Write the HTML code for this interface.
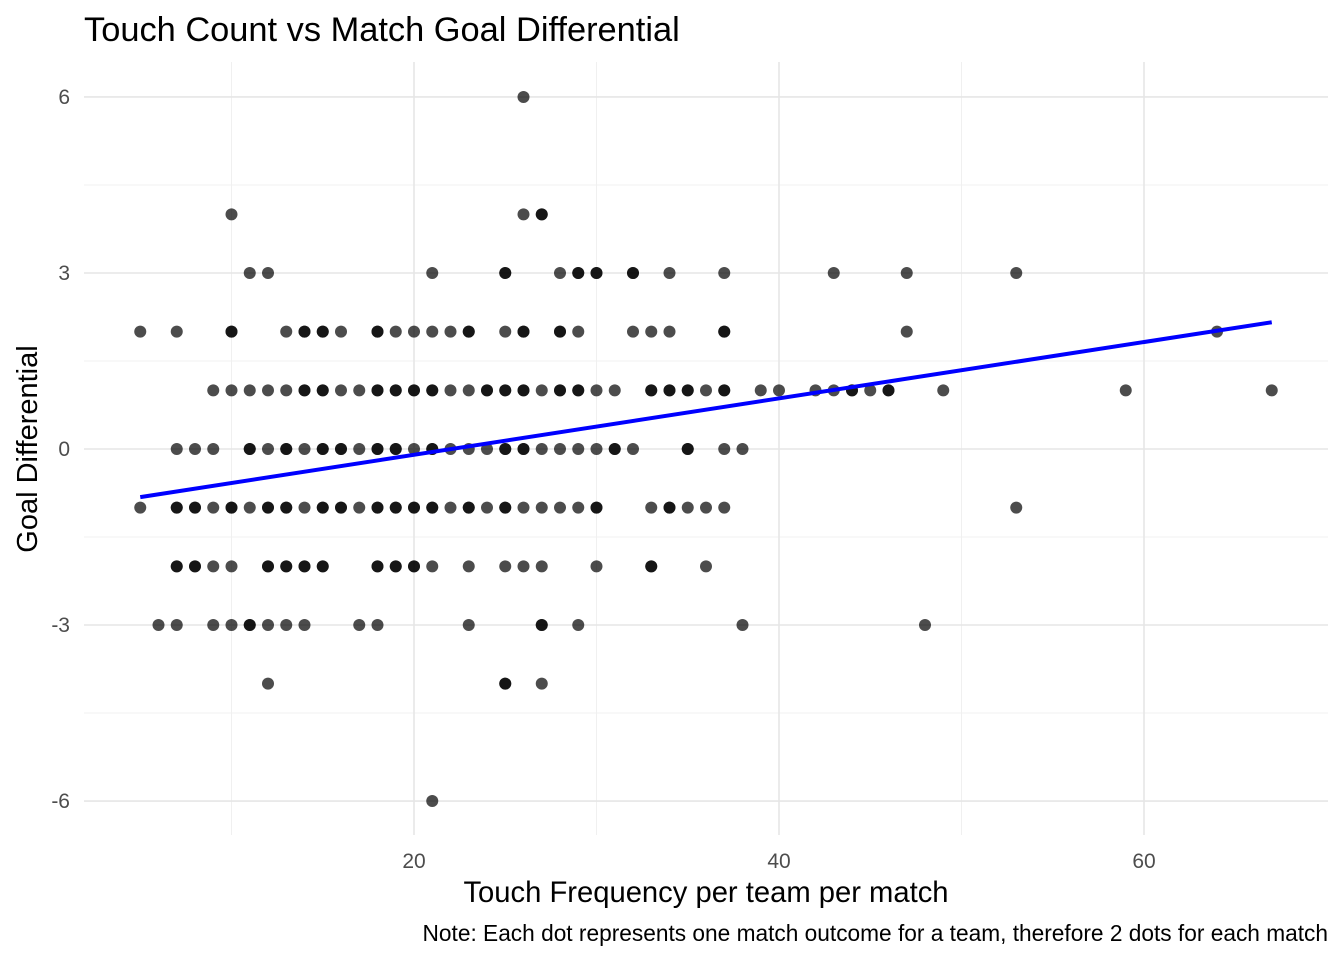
<!DOCTYPE html>
<html><head><meta charset="utf-8"><style>
body{margin:0;background:#fff;font-family:"Liberation Sans",sans-serif}
</style></head><body>
<svg width="1344" height="960" xmlns="http://www.w3.org/2000/svg">
<g id="grid"></g>
<g id="pts"></g>
<g id="fit"></g>
<g id="ticks" font-size="21" fill="#4d4d4d"></g>
<text x="84" y="41" font-size="34.4" fill="#000">Touch Count vs Match Goal Differential</text>
<text x="706" y="902" font-size="29.2" text-anchor="middle">Touch Frequency per team per match</text>
<text transform="translate(37,449) rotate(-90)" font-size="29" text-anchor="middle">Goal Differential</text>
<text x="1328" y="941" font-size="22.7" text-anchor="end">Note: Each dot represents one match outcome for a team, therefore 2 dots for each match</text>
</svg>
<script>
const rowY=[6,4,3,2,1,0,-1,-2,-3,-4,-6];
const rowX=[
[26],
[10,26,27,27],
[11,12,21,25,25,28,29,29,30,30,32,32,34,37,43,47,53],
[5,7,10,10,13,14,14,15,15,16,18,18,19,20,21,22,23,23,25,26,26,28,28,29,32,33,34,37,37,47,64],
[9,10,11,12,13,14,14,15,15,16,17,18,18,19,19,20,20,21,21,22,23,24,24,25,25,26,26,27,28,28,29,29,30,31,33,33,34,34,35,35,36,37,37,39,40,42,43,44,44,45,46,46,49,59,67],
[7,8,9,11,11,12,13,13,14,15,15,16,16,17,18,18,19,19,20,21,21,22,23,24,25,25,26,26,27,28,29,30,31,31,32,35,35,37,38],
[5,7,7,8,8,9,10,10,11,12,12,13,13,14,15,15,16,16,17,18,18,19,19,20,20,21,21,22,23,23,24,25,25,26,27,28,29,30,30,33,34,34,35,36,37,53],
[7,7,8,8,9,10,12,12,13,13,14,14,15,15,18,18,19,19,20,20,21,23,25,26,27,30,33,33,36],
[6,7,9,10,11,11,12,13,14,17,18,23,27,27,29,38,48],
[12,25,25,27],
[21]];
const fitX=[5,67];
const fitY=[-0.82,2.16];
const xTicks=[20,40,60];
const yTicks=[-6,-3,0,3,6];
const L=84,R=1328,T=62,B=835;
const sx=v=>49+v*18.25;
const sy=v=>449-v*58.67;
const NS="http://www.w3.org/2000/svg";
function mk(t,a,p){const e=document.createElementNS(NS,t);for(const k in a)e.setAttribute(k,a[k]);p.appendChild(e);return e;}
const grid=document.getElementById('grid');
[10,30,50].forEach(v=>{const l=mk('line',{x1:sx(v),x2:sx(v),y1:T,y2:B,stroke:'#f0f0f0','stroke-width':1},grid);

});
[-4.5,-1.5,1.5,4.5].forEach(v=>{const l=mk('line',{x1:L,x2:R,y1:sy(v),y2:sy(v),stroke:'#f0f0f0','stroke-width':1},grid);

});
xTicks.forEach(v=>{const l=mk('line',{x1:sx(v),x2:sx(v),y1:T,y2:B,stroke:'#e6e6e6','stroke-width':1.6},grid);

});
yTicks.forEach(v=>{const l=mk('line',{x1:L,x2:R,y1:sy(v),y2:sy(v),stroke:'#e6e6e6','stroke-width':1.6},grid);

});
const tk=document.getElementById('ticks');
xTicks.forEach(v=>{const t=mk('text',{x:sx(v),y:868,'text-anchor':'middle'},tk);t.textContent=v;

});
yTicks.forEach(v=>{const t=mk('text',{x:70,y:sy(v)+7,'text-anchor':'end'},tk);t.textContent=v;

});
const pts=document.getElementById('pts');
rowY.forEach((y,i)=>rowX[i].forEach(x=>{const c=mk('circle',{cx:sx(x),cy:sy(y),r:6,fill:'#000','fill-opacity':0.7},pts);

}));
const f=mk('line',{x1:sx(fitX[0]),y1:sy(fitY[0]),x2:sx(fitX[1]),y2:sy(fitY[1]),stroke:'#0000ff','stroke-width':4},document.getElementById('fit'));


</script>
</body></html>
